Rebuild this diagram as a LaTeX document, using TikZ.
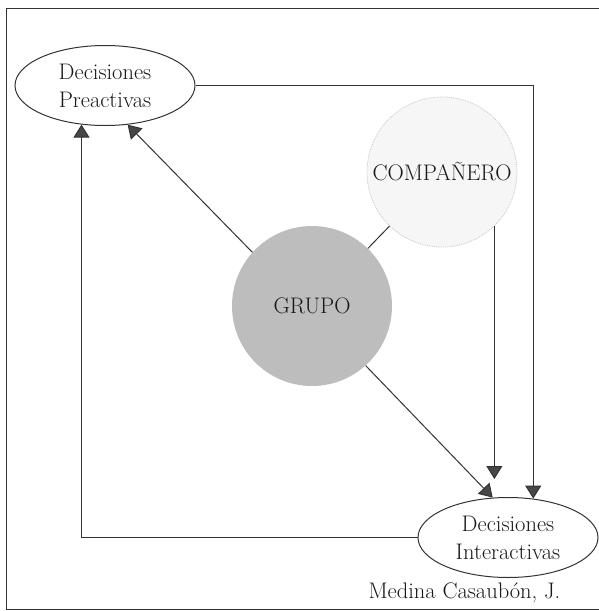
\documentclass[tikz,border=0pt]{standalone}
\usetikzlibrary{shapes.geometric,arrows.meta,calc}
\definecolor{ink}{HTML}{333333}
\definecolor{grupofill}{HTML}{BDBDBD}
\definecolor{compfill}{HTML}{F6F6F6}
\begin{document}
\begin{tikzpicture}[x=1pt,y=-1pt,
  lbl/.style={font=\fontsize{22.5}{28}\selectfont, align=center, text=black!90},
  decbox/.style={ellipse, draw=ink, line width=1pt, fill=white, minimum width=180pt, minimum height=80pt, inner sep=0pt, lbl},
  conn/.style={draw=ink, line width=1pt},
  arr/.style={conn, -{Triangle[width=16pt,length=13pt,fill=ink!90]}}]
\useasboundingbox (0,0) rectangle (598,611);
\fill[white] (0,0) rectangle (598,611);
% outer frame
\draw[ink, line width=1pt] (600,8) -- (6,8) -- (6,609) -- (600,609);
% nodes
\node[decbox] (pre) at (105,85.5) {Decisiones\\Preactivas};
\node[decbox] (int) at (508,537.5) {Decisiones\\Interactivas};
\node[circle, fill=grupofill, minimum size=160pt, inner sep=0pt, lbl] (grupo) at (312,306) {GRUPO};
\node[circle, fill=compfill, draw=gray!45, densely dotted, line width=0.8pt, minimum size=150pt, inner sep=0pt, lbl] (comp) at (442,172) {COMPA\~NERO};
\node[lbl, anchor=base west] (cite) at (365,598) {Medina Casaub\'on, J.};
\coordinate (t1) at (494,479);
% connectors
\draw[arr] (pre.east) -| (int.57);
\draw[arr] (int.west) -| (pre.239);
\draw[arr] (grupo.138) -- (pre.-60);
\draw[conn] (grupo) -- (comp);
\draw[arr] (comp.-46) -- (comp.-46 |- t1);
\draw[arr] (grupo.-48) -- (int.111);
\end{tikzpicture}
\end{document}
